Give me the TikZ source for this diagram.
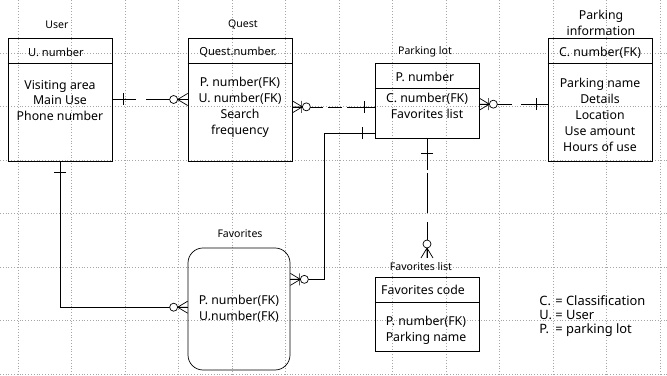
\documentclass[tikz,border=0pt]{standalone}
\usepackage{fontspec}
\setmainfont{Noto Sans}

\begin{document}
\begin{tikzpicture}[x=0.03cm, y=-0.03cm,
    entity/.style = {draw, line width=0.6pt, minimum width=3.12cm, inner sep=0pt},
    title/.style = {inner sep=1pt, font=\fontsize{9}{10.5}\selectfont},
    head/.style = {inner sep=1pt, font=\fontsize{10.5}{12}\selectfont},
    body/.style = {inner sep=1pt, align=center, font=\fontsize{10.5}{13.6}\selectfont},
    link/.style = {line width=0.6pt},
    gridline/.style = {gray!70, dotted, line width=0.4pt},
    pics/onebar/.style = {code={\draw[link] (11,-6) -- (11,6);}},
    pics/crowring/.style = {code={
      \draw[link] (0,-6) -- (10,0) -- (0,6) (0,0) -- (10,0);
      \draw[link, fill=white] (14,0) circle[radius=4];}},
    pics/crowbarring/.style = {code={
      \draw[link] (0,-6) -- (10,0) -- (0,6) (0,0) -- (10,0) (9,-6) -- (9,6);
      \draw[link, fill=white] (14,0) circle[radius=4];}}]
    \useasboundingbox (0,0) rectangle (667,376);
    \foreach \gx in {0,...,12} {
      \draw[gridline] (18+53.5*\gx, 0) -- (18+53.5*\gx, 376);
    }
    \foreach \gy in {1,...,7} {
      \draw[gridline] (0, -0.5+53.5*\gy) -- (667, -0.5+53.5*\gy);
    }

    \node[entity, minimum height=3.69cm] (user) at (60, 99.5) {};
    \node[entity, minimum height=3.69cm] (quest) at (240, 99.5) {};
    \node[entity, minimum height=2.25cm] (plot) at (427, 100.5) {};
    \node[entity, minimum height=3.69cm] (pinfo) at (600, 99.5) {};
    \node[entity, rounded corners=0.45cm, minimum width=3.06cm, minimum height=3.66cm] (favs) at (239, 309) {};
    \node[entity, minimum height=2.22cm] (flist) at (427, 314) {};
    \draw[link] (user.west |- 0,63) -- (user.east |- 0,63);
    \draw[link] (quest.west |- 0,63) -- (quest.east |- 0,63);
    \draw[link] (plot.west |- 0,88) -- (plot.east |- 0,88);
    \draw[link] (pinfo.west |- 0,63) -- (pinfo.east |- 0,63);
    \draw[link] (flist.west |- 0,302) -- (flist.east |- 0,302);

    \node[title] (user title) at (57, 25) {User};
    \node[title] (quest title) at (243, 25) {Quest};
    \node[title] (plot title) at (425, 52) {Parking lot};
    \node[body] (pinfo title) at (601, 23) {Parking\\information};
    \node[title] (favs title) at (240, 234) {Favorites};
    \node[title] (flist title) at (421, 267) {Favorites list};

    \node[head, font=\fontsize{9.5}{11}\selectfont] (user key) at (56, 52) {U. number};
    \node[head, font=\fontsize{9.5}{11}\selectfont] (quest key) at (238, 52) {Quest.number.};
    \node[head] (plot key) at (425, 77) {P. number};
    \node[head] (pinfo key) at (600, 53) {C. number(FK)};
    \node[head] (flist key) at (423, 290) {Favorites code};

    \node[body] (user attr) at (60, 100.5) {Visiting area\\Main Use\\Phone number};
    \node[body] (quest attr) at (240, 107) {P. number(FK)\\U. number(FK)\\Search\\frequency};
    \node[body] (plot attr) at (427, 105.5) {C. number(FK)\\Favorites list};
    \node[body] (pinfo attr) at (600, 115) {Parking name\\Details\\Location\\Use amount\\Hours of use};
    \node[body] (favs attr) at (239, 308.5) {P. number(FK)\\U.number(FK)};
    \node[body] (flist attr) at (426, 330) {P. number(FK)\\Parking name};
    \node[body, anchor=west, align=left, font=\fontsize{11}{13.6}\selectfont] (legend) at (538, 316.5)
      {\begin{tabular}{@{}l@{ }l@{}}C. & = Classification\\[-1.8pt] U. & = User\\[-1.8pt] P. & = parking lot\end{tabular}};

    \coordinate (flist top) at (427, 258);
    \draw[link, dash pattern=on 0.72cm off 0.3cm on 3cm] (user.east) -- (quest.west);
    \draw[link, dash pattern=on 0.93cm off 0.15cm on 0.42cm off 0.15cm on 1cm] (quest.-8) -- (quest.-8 -| plot.west);
    \draw[link, dash pattern=on 0.99cm off 0.27cm on 1.2cm] (plot.-4) -- (plot.-4 -| pinfo.west);
    \draw[link] (plot.-148) -- ++(-50, 0) |- (favs.30);
    \draw[link] (user.south) |- (favs.178);
    \draw[link, dash pattern=on 0.96cm off 0.09cm on 1.2cm off 0.27cm on 2cm] (plot.south) -- (flist top);

    \pic at (user.east) {onebar};
    \pic[rotate=180] at (quest.west) {crowring};
    \pic at (quest.-8) {crowbarring};
    \pic[rotate=180, xshift=-0.03cm] at (quest.-8 -| plot.west) {onebar};
    \pic at (plot.-4) {crowbarring};
    \pic[rotate=180] at (plot.-4 -| pinfo.west) {onebar};
    \pic[rotate=180, xshift=0.03cm] at (plot.-148) {onebar};
    \pic at (favs.30) {crowbarring};
    \pic[rotate=-90] at (user.south) {onebar};
    \pic[rotate=180] at (favs.178) {crowring};
    \pic[rotate=-90, xshift=0.12cm] at (plot.south) {onebar};
    \pic[rotate=90] at (flist top) {crowring};
\end{tikzpicture}
\end{document}
